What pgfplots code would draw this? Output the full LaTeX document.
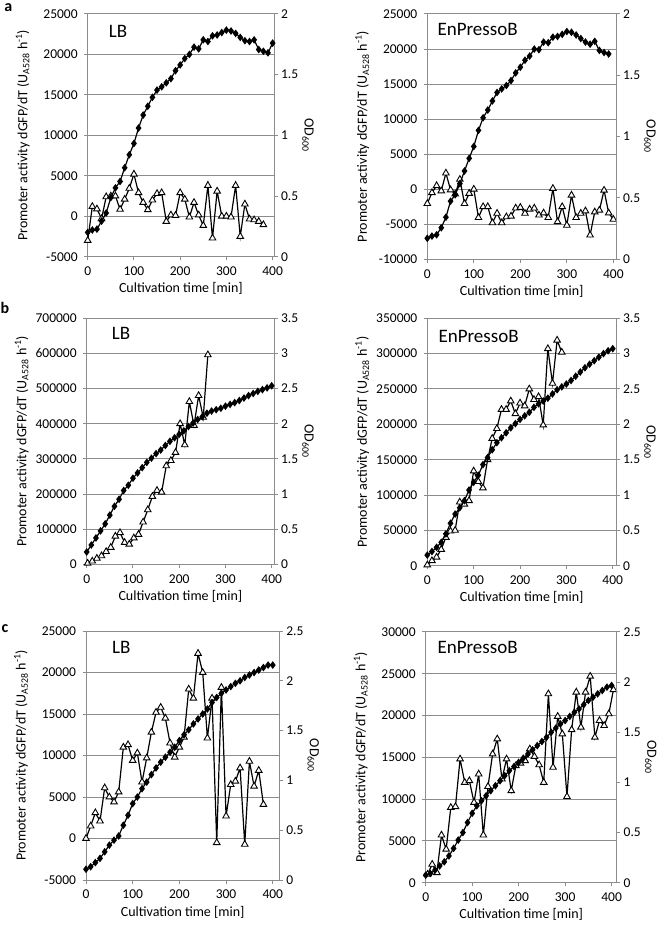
\documentclass[border=0pt]{standalone}
\usepackage{fontspec}
\setmainfont{Carlito}
\usepackage{pgfplots}
\pgfplotsset{compat=1.18}
\definecolor{gridgray}{RGB}{140,140,140}
\pgfplotsset{
  base/.style={scale only axis, xmin=0, clip=false,
    axis line style={draw=gridgray, line width=1pt},
    every tick/.style={draw=gridgray, line width=1pt},
    tick align=outside, major tick length=3.5pt,
    ticklabel style={font=\fontsize{13.5}{13.5}\selectfont},
    label style={font=\fontsize{14}{14}\selectfont},
    scaled y ticks=false, scaled x ticks=false,
    /pgf/number format/fixed,
    /pgf/number format/1000 sep={},
    /pgf/number format/assume math mode=true},
  leftax/.style={base, xtick={0,100,200,300,400}, xtick pos=left, ytick pos=left,
    ymajorgrids, grid style={draw=gridgray, line width=1pt},
    xticklabel style={yshift=-3pt}, yticklabel style={xshift=-3pt},
    xlabel={Cultivation time [min]},
    xlabel style={at={(axis description cs:0.5,0)}, anchor=center, yshift=-32pt},
    ylabel={Promoter activity dGFP/dT (U\textsubscript{A528} h\textsuperscript{-1})},
    ylabel style={at={(axis description cs:0,0.5)}, anchor=center, yshift=65pt},
    title style={at={(axis description cs:0,1)}, anchor=west, inner sep=0pt, font=\fontsize{19}{19}\selectfont}},
  rightax/.style={base, axis x line=none, axis y line*=right,
    ylabel={OD\textsubscript{600}},
    ylabel style={at={(axis description cs:1,0.5)}, anchor=center, rotate=180, yshift=34pt}},
  tri/.style={black, line width=1.2pt, mark=triangle*, mark size=3.8pt, mark options={fill=white, draw=black, line width=0.9pt, solid}},
  dia/.style={black, line width=1.2pt, mark=diamond*, mark size=2.9pt, mark options={fill=black, solid}}
}
\begin{document}
\begin{tikzpicture}
\useasboundingbox (0pt,0pt) rectangle (662pt,926pt);
\node[font=\fontsize{16}{16}\selectfont\bfseries] at (8.3pt,918.7pt) {a};
\node[font=\fontsize{16}{16}\selectfont\bfseries] at (5pt,618pt) {b};
\node[font=\fontsize{16}{16}\selectfont\bfseries] at (5pt,297pt) {c};

% ---------- a LB ----------
\begin{axis}[leftax, at={(87.7pt,669.3pt)}, anchor=south west, width=186.3pt, height=242.7pt,
  xmax=403, ymin=-5000, ymax=25000, ytick={-5000,0,5000,10000,15000,20000,25000},
  title={LB}, title style={xshift=21pt, yshift=-23pt}]
\addplot[tri] coordinates {(0,-3000)(10,1200)(20,900)(30,-300)(40,2400)(50,2500)(60,2500)(70,850)(80,2100)(90,3450)(100,5200)(110,2900)(120,1700)(130,800)(140,2000)(150,2800)(160,2900)(170,-650)(180,150)(190,100)(200,2900)(210,2100)(220,-100)(230,1700)(240,150)(250,-1150)(260,3800)(270,-2700)(280,3100)(290,0)(300,0)(310,-100)(320,3800)(330,-2500)(340,1500)(350,-350)(360,-450)(370,-650)(380,-1050)};
\end{axis}
\begin{axis}[rightax, at={(87.7pt,669.3pt)}, anchor=south west, width=186.3pt, height=242.7pt,
  xmax=403, ymin=0, ymax=2, ytick={0,0.5,1,1.5,2}]
\addplot[dia] coordinates {(0,0.200)(10,0.220)(20,0.227)(30,0.293)(40,0.360)(50,0.487)(60,0.567)(70,0.620)(80,0.733)(90,0.840)(100,0.933)(110,1.060)(120,1.167)(130,1.240)(140,1.313)(150,1.373)(160,1.400)(170,1.433)(180,1.467)(190,1.533)(200,1.580)(210,1.633)(220,1.667)(230,1.727)(240,1.713)(250,1.787)(260,1.773)(270,1.820)(280,1.827)(290,1.847)(300,1.867)(310,1.860)(320,1.840)(330,1.807)(340,1.780)(350,1.773)(360,1.787)(370,1.707)(380,1.693)(390,1.680)(400,1.760)};
\end{axis}

% ---------- a EnPressoB ----------
\begin{axis}[leftax, at={(427.3pt,666.7pt)}, anchor=south west, width=188.7pt, height=245.3pt,
  xmax=405.7, ymin=-10000, ymax=25000, ytick={-10000,-5000,0,5000,10000,15000,20000,25000},
  title={EnPressoB}, title style={xshift=10pt, yshift=-21pt}]
\addplot[tri] coordinates {(0,-2050)(10,-500)(20,500)(30,-250)(40,2300)(50,-100)(60,-700)(70,1400)(80,-2050)(90,-600)(100,0)(110,-4050)(120,-2500)(130,-2500)(140,-4800)(150,-3450)(160,-4800)(170,-3950)(180,-3850)(190,-2700)(200,-2600)(210,-3450)(220,-2850)(230,-2700)(240,-3700)(250,-3400)(260,-4050)(270,100)(280,-4650)(290,-2500)(300,-5150)(310,-850)(320,-4050)(330,-3450)(340,-3100)(350,-6550)(360,-3250)(370,-3000)(380,-150)(390,-3400)(400,-4300)};
\end{axis}
\begin{axis}[rightax, at={(427.3pt,666.7pt)}, anchor=south west, width=188.7pt, height=245.3pt,
  xmax=405.7, ymin=0, ymax=2, ytick={0,0.5,1,1.5,2}]
\addplot[dia] coordinates {(0,0.171)(10,0.189)(20,0.200)(30,0.257)(40,0.343)(50,0.474)(60,0.526)(70,0.617)(80,0.720)(90,0.823)(100,0.920)(110,1.051)(120,1.154)(130,1.217)(140,1.291)(150,1.360)(160,1.389)(170,1.417)(180,1.457)(190,1.520)(200,1.566)(210,1.623)(220,1.657)(230,1.714)(240,1.709)(250,1.771)(260,1.766)(270,1.811)(280,1.817)(290,1.834)(300,1.857)(310,1.851)(320,1.829)(330,1.800)(340,1.771)(350,1.754)(360,1.777)(370,1.703)(380,1.686)(390,1.674)};
\end{axis}

% ---------- b LB ----------
\begin{axis}[leftax, at={(86.7pt,361.7pt)}, anchor=south west, width=187.3pt, height=246pt,
  xmax=405, ymin=0, ymax=700000, ytick={0,100000,200000,300000,400000,500000,600000,700000},
  title={LB}, title style={xshift=25pt, yshift=-21pt}]
\addplot[tri] coordinates {(2,3000)(12,9000)(22,17000)(32,24000)(42,36000)(52,48000)(62,80000)(72,90000)(82,62000)(92,57000)(102,75000)(112,85000)(122,120000)(132,155000)(142,193000)(152,210000)(162,205000)(172,280000)(182,295000)(192,318000)(202,400000)(212,340000)(222,463000)(232,395000)(242,480000)(252,418000)(262,596000)};
\end{axis}
\begin{axis}[rightax, at={(86.7pt,361.7pt)}, anchor=south west, width=187.3pt, height=246pt,
  xmax=405, ymin=0, ymax=3.5, ytick={0,0.5,1,1.5,2,2.5,3,3.5}]
\addplot[dia] coordinates {(0,0.175)(10,0.275)(20,0.375)(30,0.475)(40,0.575)(50,0.700)(60,0.825)(70,0.925)(80,1.050)(90,1.125)(100,1.225)(110,1.300)(120,1.375)(130,1.450)(140,1.510)(150,1.575)(160,1.625)(170,1.690)(180,1.750)(190,1.800)(200,1.850)(210,1.900)(220,1.960)(230,2.010)(240,2.060)(250,2.100)(260,2.150)(270,2.180)(280,2.200)(290,2.220)(300,2.250)(310,2.275)(320,2.300)(330,2.330)(340,2.365)(350,2.400)(360,2.430)(370,2.460)(380,2.485)(390,2.510)(400,2.540)};
\end{axis}

% ---------- b EnPressoB ----------
\begin{axis}[leftax, at={(427.3pt,360.3pt)}, anchor=south west, width=188.7pt, height=247.4pt,
  xmax=407, ymin=0, ymax=350000, ytick={0,50000,100000,150000,200000,250000,300000,350000},
  title={EnPressoB}, title style={xshift=11pt, yshift=-24pt}]
\addplot[tri] coordinates {(0,1000)(10,7000)(20,12000)(30,23000)(40,40000)(50,49000)(60,50000)(70,90000)(80,87000)(90,92000)(100,134000)(110,119000)(120,110000)(130,150000)(140,180000)(150,194000)(160,221000)(170,221000)(180,233000)(190,215000)(200,230000)(210,226000)(220,250000)(230,235000)(240,239000)(250,199000)(260,307000)(270,258000)(280,319000)(290,302000)};
\end{axis}
\begin{axis}[rightax, at={(427.3pt,360.3pt)}, anchor=south west, width=188.7pt, height=247.4pt,
  xmax=407, ymin=0, ymax=3.5, ytick={0,0.5,1,1.5,2,2.5,3,3.5}]
\addplot[dia] coordinates {(0,0.15)(10,0.20)(20,0.26)(30,0.33)(40,0.45)(50,0.60)(60,0.73)(70,0.82)(80,0.92)(90,1.07)(100,1.18)(110,1.28)(120,1.43)(130,1.53)(140,1.64)(150,1.74)(160,1.81)(170,1.88)(180,1.95)(190,2.01)(200,2.07)(210,2.12)(220,2.17)(230,2.24)(240,2.29)(250,2.33)(260,2.37)(270,2.43)(280,2.49)(290,2.53)(300,2.57)(310,2.62)(320,2.68)(330,2.74)(340,2.80)(350,2.85)(360,2.90)(370,2.95)(380,3.00)(390,3.04)(400,3.07)};
\end{axis}

% ---------- c LB ----------
\begin{axis}[leftax, at={(86pt,46pt)}, anchor=south west, width=193.3pt, height=249pt,
  xmax=414, ymin=-5000, ymax=25000, ytick={-5000,0,5000,10000,15000,20000,25000},
  title={LB}, title style={xshift=26pt, yshift=-22pt}]
\addplot[tri] coordinates {(0,0)(10,1500)(20,3100)(30,2100)(40,6100)(50,5000)(60,4400)(70,5600)(80,11000)(90,11300)(100,9400)(110,10300)(120,6800)(130,9700)(140,12800)(150,15200)(160,15800)(170,14500)(180,11500)(190,9800)(200,11000)(210,12200)(220,18000)(230,16900)(240,22300)(250,20000)(260,12100)(270,16900)(280,-500)(290,18200)(300,2700)(310,6500)(320,6900)(330,8500)(340,-700)(350,9300)(360,6300)(370,8200)(380,4100)};
\end{axis}
\begin{axis}[rightax, at={(86pt,46pt)}, anchor=south west, width=193.3pt, height=249pt,
  xmax=414, ymin=0, ymax=2.5, ytick={0,0.5,1,1.5,2,2.5}]
\addplot[dia] coordinates {(0,0.108)(10,0.133)(20,0.175)(30,0.217)(40,0.283)(50,0.350)(60,0.400)(70,0.442)(80,0.550)(90,0.650)(100,0.767)(110,0.833)(120,0.917)(130,0.983)(140,1.058)(150,1.125)(160,1.183)(170,1.233)(180,1.283)(190,1.333)(200,1.400)(210,1.458)(220,1.508)(230,1.567)(240,1.617)(250,1.667)(260,1.717)(270,1.783)(280,1.833)(290,1.875)(300,1.908)(310,1.942)(320,1.975)(330,2.000)(340,2.033)(350,2.058)(360,2.083)(370,2.108)(380,2.133)(390,2.158)(400,2.158)};
\end{axis}

% ---------- c EnPressoB ----------
\begin{axis}[leftax, at={(425.7pt,43.3pt)}, anchor=south west, width=191pt, height=250.7pt,
  xmax=411, ymin=0, ymax=30000, ytick={0,5000,10000,15000,20000,25000,30000},
  title={EnPressoB}, title style={xshift=11.6pt, yshift=-21pt}]
\addplot[tri] coordinates {(4,1000)(14,2200)(24,1200)(34,5700)(44,4000)(54,9000)(64,9100)(74,14800)(84,12000)(94,12200)(104,9600)(114,13000)(124,5700)(134,11500)(144,15400)(154,17200)(164,12400)(174,14800)(184,11000)(194,14000)(204,14300)(214,14600)(224,16000)(234,15100)(244,14100)(254,12000)(264,22600)(274,13800)(284,19900)(294,17800)(304,10300)(314,18300)(324,22800)(334,18600)(344,22800)(354,24700)(364,17400)(374,19400)(384,18800)(394,20200)(404,23100)};
\end{axis}
\begin{axis}[rightax, at={(425.7pt,43.3pt)}, anchor=south west, width=191pt, height=250.7pt,
  xmax=411, ymin=0, ymax=2.5, ytick={0,0.5,1,1.5,2,2.5}]
\addplot[dia] coordinates {(0,0.075)(10,0.092)(20,0.125)(30,0.167)(40,0.208)(50,0.267)(60,0.342)(70,0.425)(80,0.500)(90,0.600)(100,0.692)(110,0.767)(120,0.817)(130,0.867)(140,0.917)(150,0.967)(160,1.017)(170,1.067)(180,1.117)(190,1.158)(200,1.200)(210,1.242)(220,1.283)(230,1.325)(240,1.367)(250,1.408)(260,1.450)(270,1.500)(280,1.542)(290,1.583)(300,1.617)(310,1.658)(320,1.700)(330,1.733)(340,1.775)(350,1.817)(360,1.850)(370,1.883)(380,1.917)(390,1.950)(400,1.967)};
\end{axis}
\end{tikzpicture}
\end{document}
